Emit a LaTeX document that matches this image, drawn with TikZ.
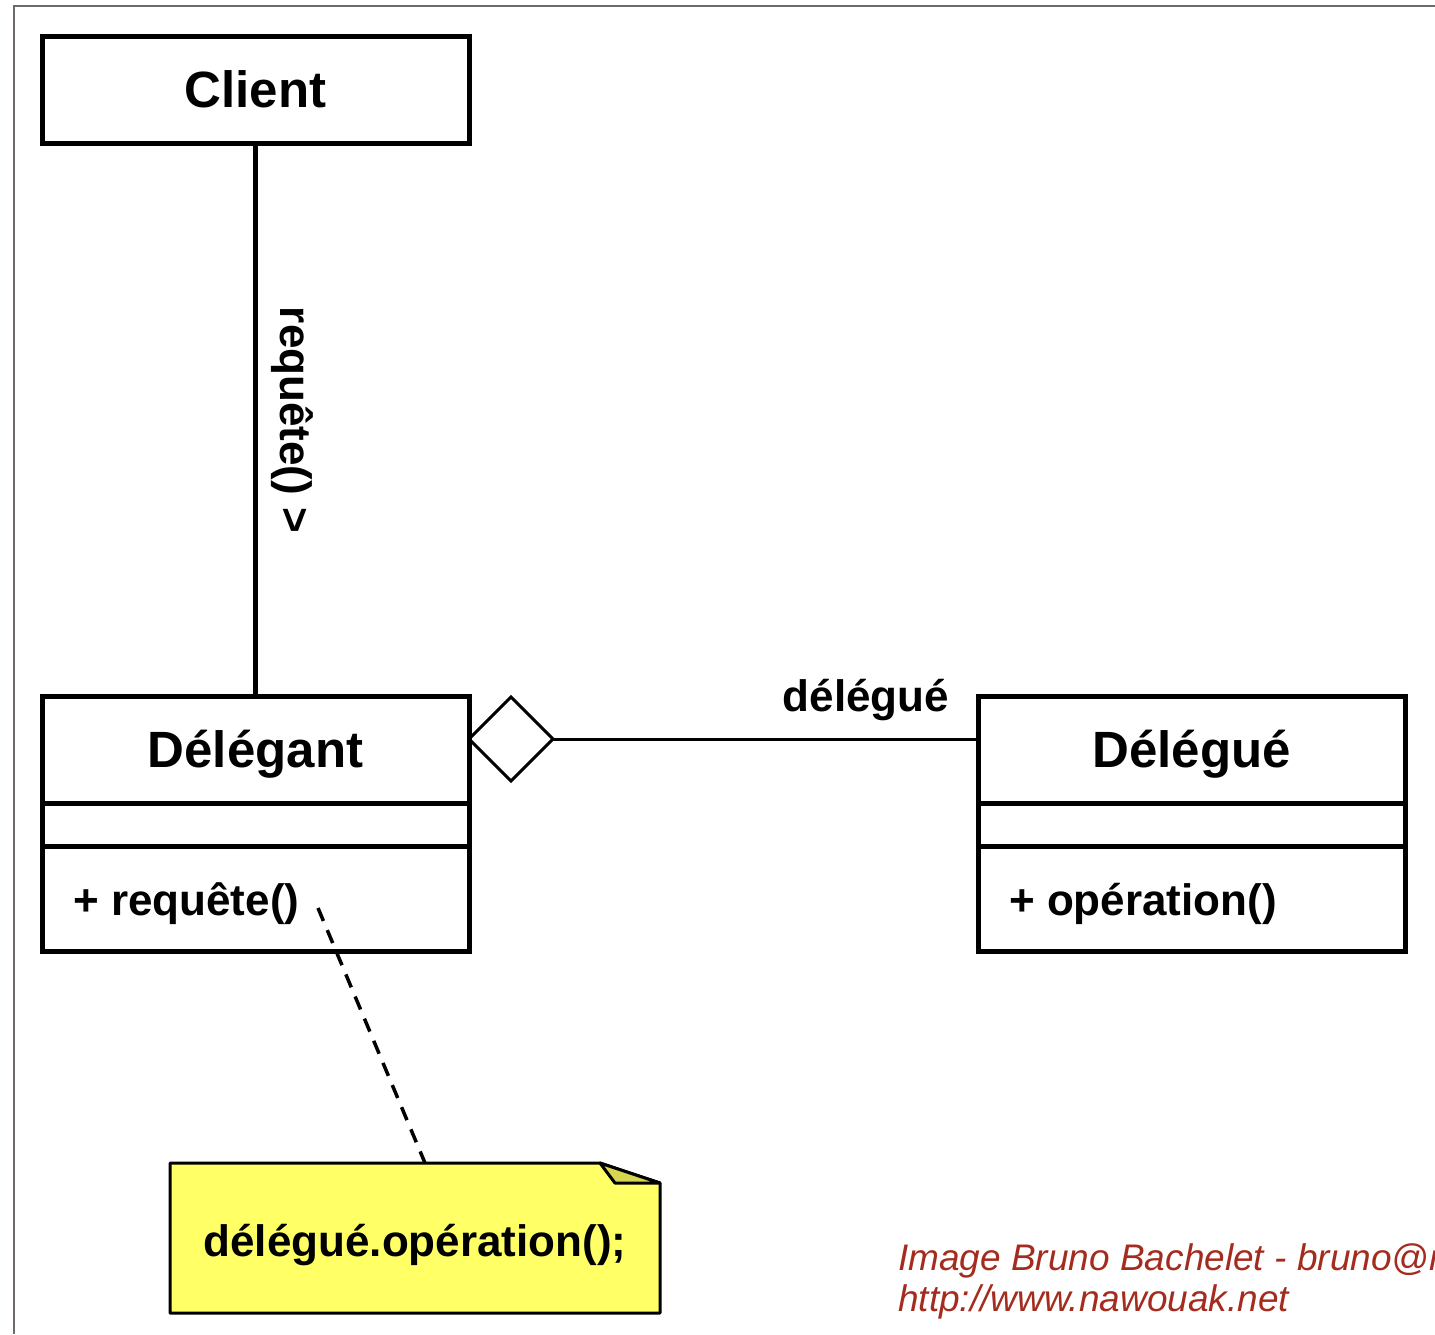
\documentclass[tikz,border=0pt]{standalone}
\usepackage{fontspec}
\setmainfont{Liberation Sans}
\usetikzlibrary{shapes.geometric,calc}
\definecolor{frame}{RGB}{112,106,106}
\definecolor{noteyellow}{RGB}{255,255,102}
\definecolor{notefold}{RGB}{214,214,80}
\definecolor{credit}{RGB}{164,44,30}
\begin{document}
\begin{tikzpicture}[x=1pt,y=-1pt,
  box/.style={draw,line width=5pt,inner sep=0pt,outer sep=0pt,anchor=north west},
  sep/.style={line width=5pt},
  title/.style={font=\bfseries\fontsize{51}{60}\selectfont,inner sep=0pt},
  member/.style={font=\bfseries\fontsize{44}{52}\selectfont,inner sep=0pt,anchor=west},
  conn/.style={line width=4.5pt},
  thinconn/.style={line width=3pt},
  creditstyle/.style={font=\itshape\fontsize{37}{42}\selectfont,text=credit,inner sep=0pt,anchor=base west}]
\useasboundingbox (0,0) rectangle (1435,1334);
\draw[frame,line width=2pt] (14,1334) -- (14,6) -- (1435,6);
% Client
\node[box,minimum width=427pt,minimum height=107pt] (client) at (42,36) {};
\node[title] (clientt) at (client.center) {Client};
% Delegant
\node[box,minimum width=427pt,minimum height=255pt] (delegant) at (42,696) {};
\node[title] (delegantt) at (255.5,754) {Délégant};
\draw[sep] (delegant.west |- 0,803) -- (delegant.east |- 0,803);
\draw[sep] (delegant.west |- 0,846) -- (delegant.east |- 0,846);
\node[member] (req) at (73,904) {+ requête()};
% Delegue
\node[box,minimum width=427pt,minimum height=255pt] (delegue) at (978,696) {};
\node[title] (deleguet) at (1191.5,754) {Délégué};
\draw[sep] (delegue.west |- 0,803) -- (delegue.east |- 0,803);
\draw[sep] (delegue.west |- 0,846) -- (delegue.east |- 0,846);
\node[member] (op) at (1009,904) {+ opération()};
% Client -- Delegant
\draw[conn] (client.south) -- (delegant.north);
\node[font=\bfseries\fontsize{44}{52}\selectfont,rotate=-90,inner sep=0pt] (reqlbl) at (292,420) {requête() >};
% Aggregation
\node[diamond,draw,line width=3pt,inner sep=0pt,outer sep=0pt,minimum width=84pt,minimum height=84pt,anchor=west] (agg) at (delegant.east |- 0,739) {};
\draw[thinconn] (agg.east) -- (delegue.west |- agg.east);
\node[font=\bfseries\fontsize{44}{52}\selectfont,inner sep=0pt] (dlbl) at (866,700) {délégué};
% Note
\coordinate (n1) at (170,1163);
\coordinate (n2) at (600,1163);
\coordinate (n3) at (660,1183);
\coordinate (n4) at (660,1313);
\coordinate (n5) at (170,1313);
\coordinate (nf) at (615,1183);
\draw[line width=3pt,fill=noteyellow,line join=round] (n1) -- (n2) -- (n3) -- (n4) -- (n5) -- cycle;
\draw[line width=3pt,fill=notefold,line join=round] (n2) -- (nf) -- (n3) -- cycle;
\node[font=\bfseries\fontsize{44}{52}\selectfont,inner sep=0pt] (notet) at (415,1245) {délégué.opération();};
\coordinate (dstart) at (318,908);
\coordinate (dend) at (425,1163);
\draw[line width=3.5pt,dash pattern=on 14pt off 10pt] (dstart) -- (dend);
% Credit
\begin{scope}
\clip (0,0) rectangle (1435,1334);
\node[creditstyle] (c1) at (898,1270) {Image Bruno Bachelet - bruno@nawouak.net};
\node[creditstyle] (c2) at (898,1311) {http://www.nawouak.net};
\end{scope}
\end{tikzpicture}
\end{document}
